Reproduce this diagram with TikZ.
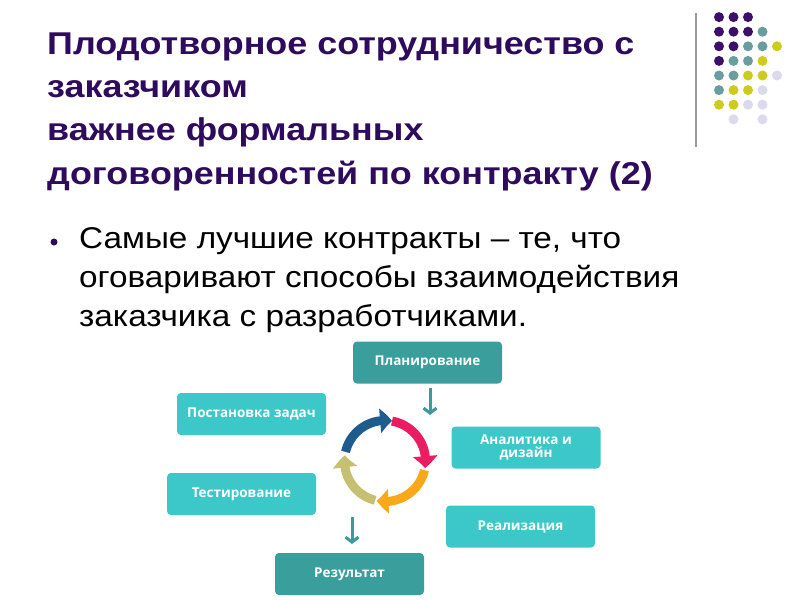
\documentclass[tikz,border=0pt]{standalone}
\usepackage{fontspec}
\setmainfont{Liberation Sans}
\newfontfamily\titlefont[FakeStretch=1.14]{Liberation Sans}
\newfontfamily\bodyfont[FakeStretch=1.11]{Liberation Sans}
\newfontfamily\boxfont{Open Sans}
\usetikzlibrary{arrows.meta,bending}
\definecolor{titlepurple}{HTML}{2E0B5C}
\definecolor{dotpurple}{HTML}{3C1068}
\definecolor{dotteal}{HTML}{6A9E9E}
\definecolor{dotyellow}{HTML}{CCCC1E}
\definecolor{dotlav}{HTML}{DADAEC}
\definecolor{darkteal}{HTML}{3A9E9C}
\definecolor{lightteal}{HTML}{3CC8C8}
\definecolor{arrteal}{HTML}{3E9A98}
\definecolor{cblue}{HTML}{1F5C8E}
\definecolor{cpink}{HTML}{EA1C62}
\definecolor{corange}{HTML}{F7A81B}
\definecolor{colive}{HTML}{C6C172}
\tikzset{
  titletext/.style={anchor=base west, inner sep=0pt, text=titlepurple, font=\titlefont\fontsize{31.5}{37}\selectfont\bfseries},
  bodytext/.style={anchor=base west, inner sep=0pt, text=black, font=\bodyfont\fontsize{30}{36}\selectfont},
  stagebox/.style={rounded corners=4pt, minimum width=149pt, minimum height=42pt, inner sep=0pt, text=white, font=\boxfont\fontsize{13.5}{16.5}\selectfont\bfseries, align=center},
  darkbox/.style={stagebox, fill=darkteal},
  lightbox/.style={stagebox, fill=lightteal},
  downarrow/.style={draw=arrteal, line width=3pt, -{Straight Barb[length=5pt,width=13pt,line width=3pt]}},
  ring/.style={line width=9pt},
  ringtip/.style={-{Triangle[bend,length=12pt,width=24pt]}},
  dot/.style={circle, inner sep=0pt, minimum size=10pt},
}
\begin{document}
\begin{tikzpicture}[x=1pt,y=-1pt]
\useasboundingbox (0,0) rectangle (800,600);
\fill[white] (0,0) rectangle (800,600);

% decoration: vertical line and dot grid
\coordinate (vt) at (696,13);
\coordinate (vb) at (696,147);
\draw[line width=2pt, draw=black!40] (vt) -- (vb);
\foreach \c/\col/\row in {
 dotpurple/1/1, dotpurple/2/1, dotpurple/3/1,
 dotpurple/1/2, dotpurple/2/2, dotpurple/3/2, dotteal/4/2,
 dotpurple/1/3, dotpurple/2/3, dotteal/3/3, dotteal/4/3, dotyellow/5/3,
 dotpurple/1/4, dotteal/2/4, dotteal/3/4, dotyellow/4/4,
 dotteal/1/5, dotteal/2/5, dotyellow/3/5, dotyellow/4/5, dotlav/5/5,
 dotteal/1/6, dotyellow/2/6, dotyellow/3/6, dotlav/4/6,
 dotyellow/1/7, dotyellow/2/7, dotlav/3/7, dotlav/4/7,
 dotlav/2/8, dotlav/4/8}
 { \node[dot, fill=\c] (d-\col-\row) at ({704.5+14.5*\col},{2.5+14.6*\row}) {}; }

% title
\node[titletext] (t1) at (47,54) {Плодотворное сотрудничество с};
\node[titletext] (t2) at (47,97) {заказчиком};
\node[titletext] (t3) at (47,140) {важнее формальных};
\node[titletext] (t4) at (47,184) {договоренностей по контракту (2)};

% bullet text
\node[circle, fill=titlepurple, inner sep=0pt, minimum size=7pt] (bul) at (54,242) {};
\node[bodytext] (b1) at (79,248) {Самые лучшие контракты – те, что};
\node[bodytext] (b2) at (79,287) {оговаривают способы взаимодействия};
\node[bodytext] (b3) at (79,326) {заказчика с разработчиками.};

% stage boxes
\node[darkbox]  (plan) at (427.5,362.5) {Планирование};
\node[lightbox] (task) at (251.5,414) {Постановка задач};
\node[lightbox] (anal) at (526,447.5) {Аналитика и\\[-3pt]дизайн};
\node[lightbox] (test) at (241.5,494) {Тестирование};
\node[lightbox] (impl) at (520.5,526.5) {Реализация};
\node[darkbox]  (res)  at (349.5,574) {Результат};

% down arrows
\coordinate (a1s) at (430,388);
\coordinate (a1e) at (430,415);
\coordinate (a2s) at (352,517);
\coordinate (a2e) at (352,544);
\draw[downarrow] (a1s) -- (a1e);
\draw[downarrow] (a2s) -- (a2e);

% cycle ring
\coordinate (cc) at (385,461);
\draw[ring, draw=cblue, ringtip] (cc) ++(167:40.5pt) arc[start angle=167, end angle=80, radius=40.5pt];
\draw[ring, draw=cpink, ringtip] (cc) ++(80:40.5pt) arc[start angle=80, end angle=-10, radius=40.5pt];
\draw[ring, draw=corange, ringtip] (cc) ++(-13:40.5pt) arc[start angle=-13, end angle=-102, radius=40.5pt];
\draw[ring, draw=colive, ringtip] (cc) ++(-104:40.5pt) arc[start angle=-104, end angle=-188, radius=40.5pt];
\end{tikzpicture}
\end{document}
